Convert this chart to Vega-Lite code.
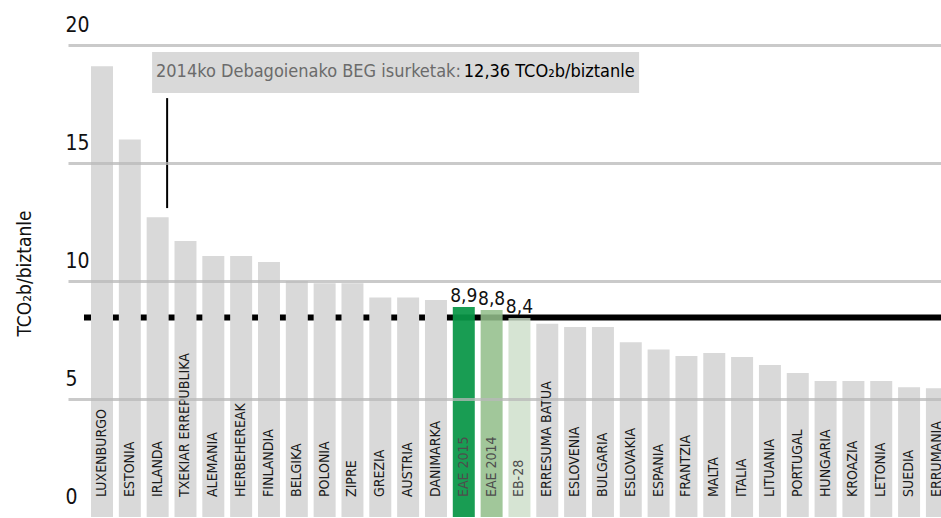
{
  "$schema": "https://vega.github.io/schema/vega-lite/v6.json",
  "width": 873,
  "height": 472,
  "padding": {"left": 68, "top": 45, "right": 0, "bottom": 1},
  "autosize": {"type": "none"},
  "background": "white",
  "config": {
    "view": {"stroke": null},
    "font": "DejaVu Sans Condensed, sans-serif"
  },
  "datasets": {
    "bars": [
      {"land": "LUXENBURGO", "v": 19.1, "kind": "g"},
      {"land": "ESTONIA", "v": 16.0, "kind": "g"},
      {"land": "IRLANDA", "v": 12.7, "kind": "g"},
      {"land": "TXEKIAR ERREPUBLIKA", "v": 11.7, "kind": "g"},
      {"land": "ALEMANIA", "v": 11.06, "kind": "g"},
      {"land": "HERBEHEREAK", "v": 11.06, "kind": "g"},
      {"land": "FINLANDIA", "v": 10.8, "kind": "g"},
      {"land": "BELGIKA", "v": 10.0, "kind": "g"},
      {"land": "POLONIA", "v": 9.9, "kind": "g"},
      {"land": "ZIPRE", "v": 9.9, "kind": "g"},
      {"land": "GREZIA", "v": 9.3, "kind": "g"},
      {"land": "AUSTRIA", "v": 9.3, "kind": "g"},
      {"land": "DANIMARKA", "v": 9.2, "kind": "g"},
      {"land": "EAE 2015", "v": 8.9, "kind": "e15", "lbl": "8,9"},
      {"land": "EAE 2014", "v": 8.77, "kind": "e14", "lbl": "8,8"},
      {"land": "EB-28", "v": 8.43, "kind": "eb", "lbl": "8,4"},
      {"land": "ERRESUMA BATUA", "v": 8.19, "kind": "g"},
      {"land": "ESLOVENIA", "v": 8.05, "kind": "g"},
      {"land": "BULGARIA", "v": 8.05, "kind": "g"},
      {"land": "ESLOVAKIA", "v": 7.4, "kind": "g"},
      {"land": "ESPANIA", "v": 7.1, "kind": "g"},
      {"land": "FRANTZIA", "v": 6.82, "kind": "g"},
      {"land": "MALTA", "v": 6.95, "kind": "g"},
      {"land": "ITALIA", "v": 6.78, "kind": "g"},
      {"land": "LITUANIA", "v": 6.44, "kind": "g"},
      {"land": "PORTUGAL", "v": 6.1, "kind": "g"},
      {"land": "HUNGARIA", "v": 5.76, "kind": "g"},
      {"land": "KROAZIA", "v": 5.76, "kind": "g"},
      {"land": "LETONIA", "v": 5.76, "kind": "g"},
      {"land": "SUEDIA", "v": 5.5, "kind": "g"},
      {"land": "ERRUMANIA", "v": 5.46, "kind": "g"}
    ]
  },
  "layer": [
    {
      "data": {"values": [{}]},
      "mark": {"type": "rule", "color": "#000000", "strokeWidth": 6},
      "encoding": {
        "x": {"datum": -0.647, "type": "quantitative", "scale": {"domain": [-1.2217, 30.147], "nice": false, "zero": false}, "axis": null},
        "x2": {"datum": 30.147},
        "y": {
          "datum": 8.45, "type": "quantitative",
          "scale": {"domain": [0, 20], "nice": false, "zero": true},
          "axis": {
            "title": "TCO₂b/biztanle",
            "values": [0, 5, 10, 15, 20],
            "grid": true,
            "gridColor": "#b8b8b8",
            "gridOpacity": {"condition": {"test": "datum.value === 0", "value": 0}, "value": 0.75},
            "gridWidth": 3,
            "domain": false,
            "ticks": false,
            "tickSize": 0,
            "labelAlign": "left",
            "labelBaseline": "middle",
            "labelPadding": 3,
            "labelOffset": -20,
            "labelFontSize": 21,
            "labelColor": "#111111",
            "titleFontSize": 19,
            "titleFontWeight": "normal",
            "titleColor": "#111111",
            "titleAngle": -90,
            "titleAlign": "center",
            "titleBaseline": "middle",
            "titleX": -44,
            "titleY": 228,
            "zindex": 1
          }
        }
      }
    },
    {
      "data": {"name": "bars"},
      "layer": [
        {
          "mark": {"type": "bar", "clip": true},
          "encoding": {
            "x": {"field": "land", "type": "nominal", "sort": null, "scale": {"range": [23, 879.9], "paddingInner": 0.21, "paddingOuter": 0}, "axis": null},
            "y": {"field": "v", "type": "quantitative", "title": "TCO₂b/biztanle"},
            "color": {"field": "kind", "type": "nominal", "scale": {"domain": ["g", "e15", "e14", "eb"], "range": ["#d9d9d9", "#099647", "#92be8b", "#ccddc8"]}, "legend": null},
            "opacity": {"field": "kind", "type": "nominal", "scale": {"domain": ["g", "e15", "e14", "eb"], "range": [1, 0.8, 0.8, 0.8]}, "legend": null}
          }
        },
        {
          "mark": {"type": "text", "angle": 270, "align": "left", "baseline": "middle", "fontSize": 14, "dx": 20, "clip": true},
          "encoding": {
            "x": {"field": "land", "type": "nominal", "sort": null},
            "y": {"datum": 0, "type": "quantitative", "title": "TCO₂b/biztanle"},
            "text": {"field": "land"},
            "color": {"condition": {"test": "datum.kind === 'g'", "value": "#1a1a1a"}, "value": "#4d4d4d"}
          }
        },
        {
          "transform": [{"filter": "datum.lbl"}],
          "mark": {"type": "text", "align": "center", "baseline": "bottom", "fontSize": 19, "dy": -1, "color": "#111111"},
          "encoding": {
            "x": {"field": "land", "type": "nominal", "sort": null},
            "y": {"field": "v", "type": "quantitative", "title": "TCO₂b/biztanle"},
            "text": {"field": "lbl"}
          }
        }
      ]
    },
    {
      "data": {"values": [{}]},
      "layer": [
        {
          "mark": {"type": "rect", "color": "#d9d9d9"},
          "encoding": {
            "x": {"datum": 1.8, "type": "quantitative", "scale": {"domain": [-1.2217, 30.147], "nice": false, "zero": false}, "axis": null},
            "x2": {"datum": 19.3},
            "y": {"datum": 17.97, "type": "quantitative", "title": "TCO₂b/biztanle"},
            "y2": {"datum": 19.7}
          }
        },
        {
          "mark": {"type": "text", "align": "left", "baseline": "middle", "fontSize": 18, "color": "#6b6b6b"},
          "encoding": {
            "x": {"datum": 1.94, "type": "quantitative"},
            "y": {"datum": 18.85, "type": "quantitative", "title": "TCO₂b/biztanle"},
            "text": {"value": "2014ko Debagoienako BEG isurketak:"}
          }
        },
        {
          "mark": {"type": "text", "align": "left", "baseline": "middle", "fontSize": 18, "color": "#000000"},
          "encoding": {
            "x": {"datum": 13.0, "type": "quantitative"},
            "y": {"datum": 18.85, "type": "quantitative", "title": "TCO₂b/biztanle"},
            "text": {"value": "12,36 TCO₂b/biztanle"}
          }
        },
        {
          "mark": {"type": "rule", "color": "#000000", "strokeWidth": 2},
          "encoding": {
            "x": {"datum": 2.34, "type": "quantitative"},
            "y": {"datum": 17.75, "type": "quantitative", "title": "TCO₂b/biztanle"},
            "y2": {"datum": 13.09}
          }
        }
      ]
    }
  ],
  "resolve": {"scale": {"x": "independent"}}
}
